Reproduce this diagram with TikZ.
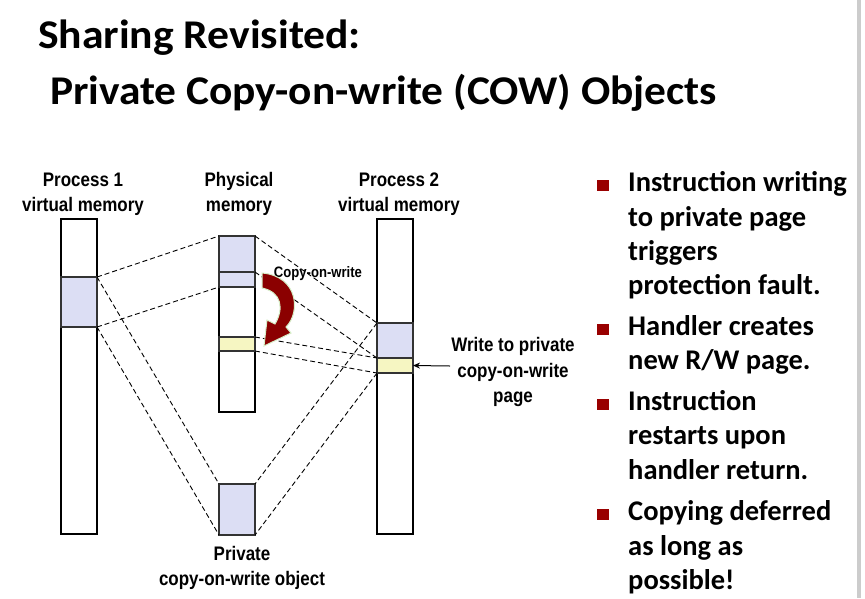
\documentclass[tikz,border=0pt]{standalone}
\usepackage{fontspec}
\usetikzlibrary{arrows.meta}
\setmainfont{Carlito}
\newfontfamily\labfont{Liberation Sans}
\newcommand\talltext[1]{\scalebox{0.97}[1.12]{#1}}
\definecolor{cowblue}{HTML}{DCDEF4}
\definecolor{cowyellow}{HTML}{F6F6C2}
\definecolor{bulred}{HTML}{990000}
\definecolor{arrred}{HTML}{8B0000}
\definecolor{arrglow}{HTML}{D6EFC8}
\begin{document}
\begin{tikzpicture}[x=1pt,y=-1pt,
  col/.style={draw=black,line width=1.1pt,fill=white,inner sep=0pt,outer sep=0pt,minimum width=36pt,anchor=north west},
  blk/.style={draw=black!80,line width=1.1pt,inner sep=0pt,outer sep=0pt,minimum width=36pt,anchor=north west},
  map/.style={draw=black,line width=0.9pt,dash pattern=on 5pt off 3pt},
  lbl/.style={font=\labfont\bfseries\fontsize{17.5}{20}\selectfont,anchor=base,inner sep=0pt},
  small/.style={font=\labfont\bfseries\fontsize{13.5}{16}\selectfont,anchor=base,inner sep=0pt},
  title/.style={font=\bfseries\fontsize{40}{44}\selectfont,anchor=base west,inner sep=0pt},
  btext/.style={font=\bfseries\fontsize{28.5}{32}\selectfont,anchor=base west,inner sep=0pt},
  bsq/.style={fill=bulred,inner sep=0pt,minimum width=12pt,minimum height=11pt}]
\useasboundingbox[fill=white] (0,0) rectangle (865,598);
\fill[black!20] (857,0) rectangle (861,598);
% title
\node[title] (t1) at (38,48) {\scalebox{1.09}[1.02]{Sharing Revisited:}};
\node[title] (t2) at (50,104) {\scalebox{1.085}[1.02]{Private Copy-on-write (COW) Objects}};
% columns
\node[col,minimum height=315pt] (p1) at (61,219) {};
\node[col,minimum height=176pt] (pm) at (219,236) {};
\node[col,minimum height=315pt] (p2) at (377,219) {};
% blocks
\node[blk,fill=cowblue,minimum height=50pt] (p1b) at (61,277) {};
\node[blk,fill=cowblue,minimum height=36pt] (pma) at (219,236) {};
\node[blk,fill=cowblue,minimum height=15pt] (pmb) at (219,272) {};
\node[blk,fill=cowyellow,minimum height=14pt] (pmy) at (219,337) {};
\node[blk,fill=cowblue,minimum height=35pt] (p2b) at (377,323) {};
\node[blk,fill=cowyellow,minimum height=15pt] (p2y) at (377,358) {};
\node[blk,fill=cowblue,minimum height=51pt] (obj) at (219,484) {};
% mappings
\draw[map] (p1b.north east) -- (pma.north west);
\draw[map] (p1b.south east) -- (pmb.south west);
\draw[map] (p1b.north east) -- (obj.north west);
\draw[map] (p1b.south east) -- (obj.south west);
\draw[map] (pma.north east) -- (p2b.north west);
\draw[map] (pma.south east) -- (p2b.south west);
\draw[map] (pmy.north east) -- (p2y.north west);
\draw[map] (pmy.south east) -- (p2y.south west);
\draw[map] (p2b.north west) -- (obj.north east);
\draw[map] (p2y.south west) -- (obj.south east);
% labels
\node[lbl] (l1a) at (83,186) {\talltext{Process 1}};
\node[lbl] (l1b) at (83,211) {\talltext{virtual memory}};
\node[lbl] (l2a) at (239,186) {\talltext{Physical}};
\node[lbl] (l2b) at (239,211) {\talltext{memory}};
\node[lbl] (l3a) at (399,186) {\talltext{Process 2}};
\node[lbl] (l3b) at (399,211) {\talltext{virtual memory}};
\node[lbl] (w1) at (513,351) {\talltext{Write to private}};
\node[lbl] (w2) at (513,377) {\talltext{copy-on-write}};
\node[lbl] (w3) at (513,402) {\talltext{page}};
\node[lbl] (o1) at (242,560) {\talltext{Private}};
\node[lbl] (o2) at (242,585) {\talltext{copy-on-write object}};
\coordinate (wa) at (450,366);
\draw[line width=1pt,-{Stealth[length=7pt,width=6pt]}] (wa) -- (p2y.east);
% copy-on-write curved arrow
\node[small] (cowl) at (318,277) {\talltext{Copy-on-write}};
\filldraw[fill=arrred,draw=arrglow,line width=1pt]
  (262,273) .. controls (298,276) and (301,312) .. (286,327)
  -- (291,333) -- (264,346) -- (267,320) -- (275,324)
  .. controls (284,309) and (282,292) .. (262,288) -- cycle;
% bullets
\node[bsq] (s1) at (603,185) {};
\node[btext] (b1a) at (628,191) {Instruction writing};
\node[btext] (b1b) at (628,226) {to private page};
\node[btext] (b1c) at (628,260) {triggers};
\node[btext] (b1d) at (628,294) {protection fault.};
\node[bsq] (s2) at (603,329) {};
\node[btext] (b2a) at (628,335) {Handler creates};
\node[btext] (b2b) at (628,369) {new R/W page.};
\node[bsq] (s3) at (603,404) {};
\node[btext] (b3a) at (628,410) {Instruction};
\node[btext] (b3b) at (628,444) {restarts upon};
\node[btext] (b3c) at (628,479) {handler return.};
\node[bsq] (s4) at (603,514) {};
\node[btext] (b4a) at (628,520) {Copying deferred};
\node[btext] (b4b) at (628,555) {as long as};
\node[btext] (b4c) at (628,589) {possible!};
\end{tikzpicture}
\end{document}
